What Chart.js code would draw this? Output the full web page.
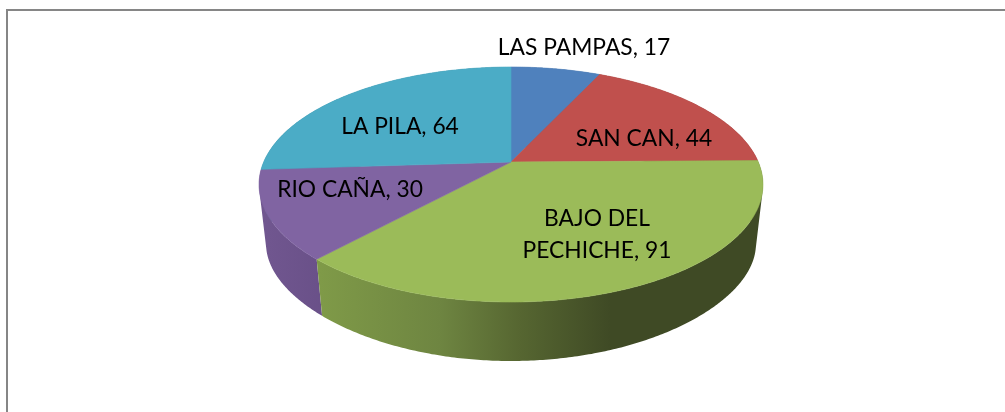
<!DOCTYPE html>
<html>
<head>
<meta charset="utf-8">
<style>html,body{margin:0;padding:0;background:#fff}canvas{display:block}</style>
<script src="https://cdn.jsdelivr.net/npm/chart.js@4"></script>
</head>
<body>
<canvas id="c" width="1005" height="412"></canvas>
<script>
const categories = ["LAS PAMPAS", "SAN CAN", "BAJO DEL PECHICHE", "RIO CAÑA", "LA PILA"];
const seriesValues = [17, 44, 91, 30, 64];
const labelLines = [["LAS PAMPAS, 17"], ["SAN CAN, 44"], ["BAJO DEL", "PECHICHE, 91"], ["RIO CAÑA, 30"], ["LA PILA, 64"]];
const sliceColors = ["#4F81BD", "#C0504D", "#9BBB59", "#8064A2", "#4BACC6"];
const labelCenters = [[584, 48], [644, 139], [597, 235], [350, 190], [400, 127]];
const wallStops = [
  [[260, "#4a6a90"], [760, "#4a6a90"]],
  [[260, "#7a3532"], [760, "#7a3532"]],
  [[320, "#7F9A48"], [440, "#6E8541"], [520, "#566631"], [610, "#3F4A25"], [765, "#3F4A25"]],
  [[260, "#715790"], [325, "#695088"]],
  [[260, "#35798b"], [760, "#35798b"]]
];

const P = 0.1915, CX = 511;
const TOP = { a: 247.3, b: 113.2, cy: 162, py: 0.1915 };
const BOT = { a: 240.4, b: 98.5, cy: 224.2, py: 0.28 };

function project(face, th) {
  const u = Math.sin(th), v = -Math.cos(th);
  return [CX + face.a * u / (1 - P * v), face.cy + face.b * v / (1 - face.py * v)];
}
function arcPoints(face, a0, a1) {
  const n = Math.max(2, Math.ceil((a1 - a0) / 0.01)), pts = [];
  for (let i = 0; i <= n; i++) pts.push(project(face, a0 + (a1 - a0) * i / n));
  return pts;
}
function addPoly(ctx, pts) {
  pts.forEach((p, i) => i ? ctx.lineTo(p[0], p[1]) : ctx.moveTo(p[0], p[1]));
  ctx.closePath();
}
function signedArea(q) {
  let s = 0;
  q.forEach((p, i) => { const r = q[(i + 1) % q.length]; s += p[0] * r[1] - r[0] * p[1]; });
  return s;
}

const perspectivePie = {
  id: "perspectivePie",
  beforeDraw(chart) {
    const ctx = chart.ctx;
    ctx.save();
    ctx.fillStyle = "#fff";
    ctx.fillRect(0, 0, chart.width, chart.height);
    ctx.fillStyle = "#868686";
    ctx.fillRect(6, 9, chart.width - 6, 2);
    ctx.fillRect(6, 9, 2, chart.height - 9);
    ctx.restore();
  },
  beforeDatasetsDraw(chart) {
    const ctx = chart.ctx;
    const arcs = chart.getDatasetMeta(0).data;
    const angles = arcs.map(el => [el.startAngle + Math.PI / 2, el.endAngle + Math.PI / 2]);
    ctx.save();
    // side walls, furthest slices first; each is the union of small quads swept round the rim
    const order = angles.map((a, i) => i).sort((p, q) =>
      -Math.cos((angles[p][0] + angles[p][1]) / 2) - -Math.cos((angles[q][0] + angles[q][1]) / 2));
    order.forEach(i => {
      const [a0, a1] = angles[i];
      const stops = wallStops[i];
      const x0 = stops[0][0], x1 = stops[stops.length - 1][0];
      const g = ctx.createLinearGradient(x0, 0, x1, 0);
      stops.forEach(s => g.addColorStop((s[0] - x0) / (x1 - x0), s[1]));
      const t = arcPoints(TOP, a0, a1), b = arcPoints(BOT, a0, a1);
      ctx.beginPath();
      for (let k = 0; k < t.length - 1; k++) {
        const q = [t[k], t[k + 1], b[k + 1], b[k]];
        addPoly(ctx, signedArea(q) < 0 ? q.reverse() : q);
      }
      ctx.fillStyle = g;
      ctx.fill("nonzero");
    });
    // top faces
    angles.forEach(([a0, a1], i) => {
      ctx.beginPath();
      addPoly(ctx, [[CX, TOP.cy]].concat(arcPoints(TOP, a0, a1)));
      ctx.fillStyle = sliceColors[i];
      ctx.strokeStyle = sliceColors[i];
      ctx.lineWidth = 0.6;
      ctx.fill();
      ctx.stroke();
    });
    // labels
    ctx.fillStyle = "#000";
    ctx.font = '22.8px Lato, "Open Sans", sans-serif';
    ctx.textAlign = "center";
    ctx.textBaseline = "middle";
    labelLines.forEach((lines, i) => {
      const [x, y] = labelCenters[i];
      lines.forEach((s, k) => ctx.fillText(s, x, y + (k - (lines.length - 1) / 2) * 32));
    });
    ctx.restore();
    return false;
  }
};

new Chart(document.getElementById("c"), {
  type: "pie",
  data: {
    labels: categories,
    datasets: [{ data: seriesValues, backgroundColor: sliceColors, borderWidth: 0 }]
  },
  options: {
    responsive: false,
    animation: false,
    plugins: { legend: { display: false }, tooltip: { enabled: false } }
  },
  plugins: [perspectivePie]
});
</script>
</body>
</html>
